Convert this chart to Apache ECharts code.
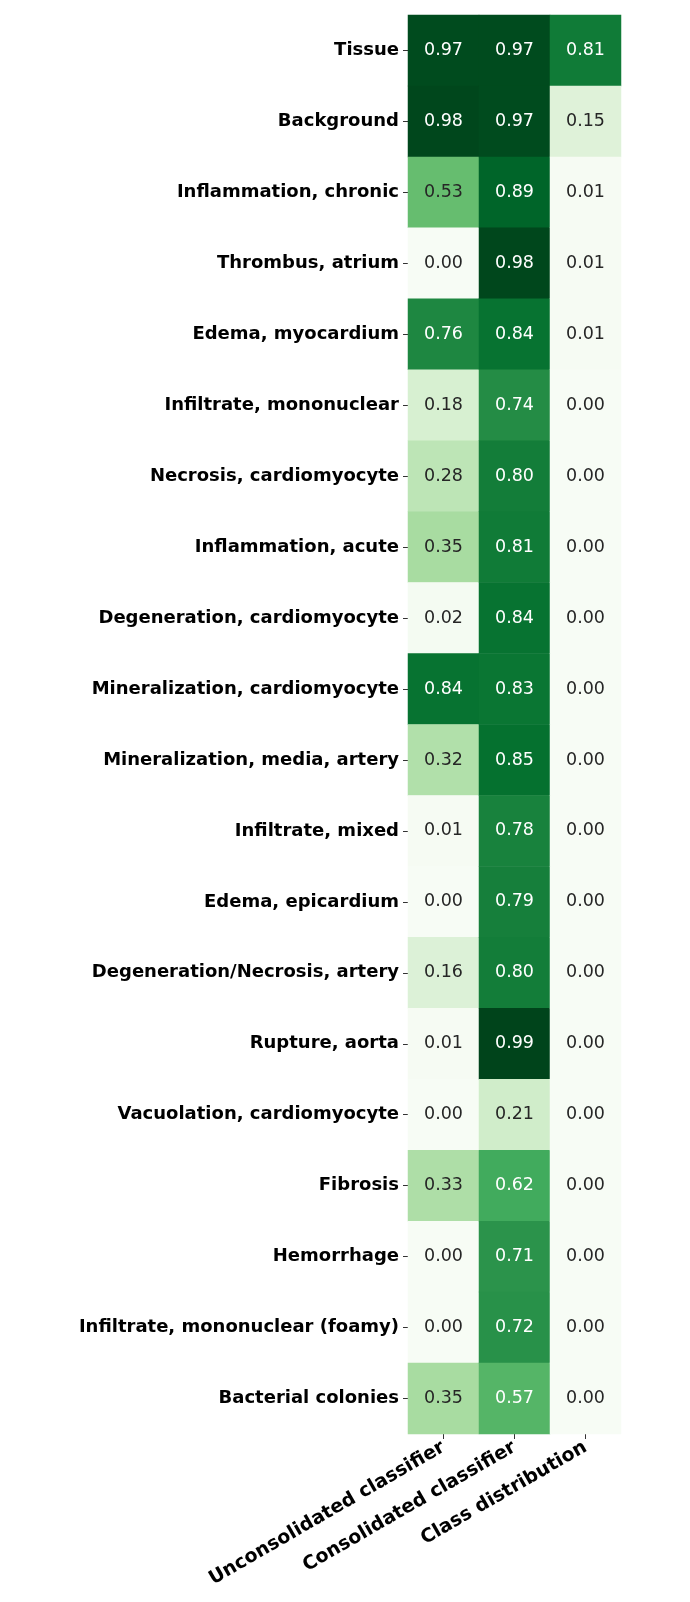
<!DOCTYPE html>
<html><head><meta charset="utf-8">
<script src="https://cdn.jsdelivr.net/npm/echarts@6/dist/echarts.min.js"></script>
<style>html,body{margin:0;padding:0;background:#fff}#c{width:690px;height:1602px}</style>
</head><body><div id="c"></div>
<script>
const rows = ["Tissue","Background","Inflammation, chronic","Thrombus, atrium","Edema, myocardium","Infiltrate, mononuclear","Necrosis, cardiomyocyte","Inflammation, acute","Degeneration, cardiomyocyte","Mineralization, cardiomyocyte","Mineralization, media, artery","Infiltrate, mixed","Edema, epicardium","Degeneration/Necrosis, artery","Rupture, aorta","Vacuolation, cardiomyocyte","Fibrosis","Hemorrhage","Infiltrate, mononuclear (foamy)","Bacterial colonies"];
const cols = ["Unconsolidated classifier","Consolidated classifier","Class distribution"];
const unconsolidated = [0.97,0.98,0.53,0.00,0.76,0.18,0.28,0.35,0.02,0.84,0.32,0.01,0.00,0.16,0.01,0.00,0.33,0.00,0.00,0.35];
const consolidated = [0.97,0.97,0.89,0.98,0.84,0.74,0.80,0.81,0.84,0.83,0.85,0.78,0.79,0.80,0.99,0.21,0.62,0.71,0.72,0.57];
const distribution = [0.81,0.15,0.01,0.01,0.01,0.00,0.00,0.00,0.00,0.00,0.00,0.00,0.00,0.00,0.00,0.00,0.00,0.00,0.00,0.00];
const greens = ['#f7fcf5','#e5f5e0','#c7e9c0','#a1d99b','#74c476','#41ab5d','#238b45','#006d2c','#00441b'];

const series = [unconsolidated, consolidated, distribution];
const data = [];
series.forEach((arr, ci) => arr.forEach((v, ri) => {
  data.push({value:[ci, ri, v], label:{color: v > 0.55 ? '#ffffff' : '#262626'}});
}));

const chart = echarts.init(document.getElementById('c'), null, {renderer:'canvas'});
chart.setOption({
  animation:false,
  textStyle:{fontFamily:'DejaVu Sans'},
  grid:{left:408, right:69, top:15, bottom:168},
  xAxis:{type:'category', data:cols, axisLine:{show:false},
    axisTick:{show:true, alignWithLabel:true, length:5, lineStyle:{color:'#333'}},
    axisLabel:{rotate:30, fontSize:19, fontWeight:'bold', color:'#000', margin:12, fontFamily:'DejaVu Sans'},
    splitLine:{show:false}},
  yAxis:{type:'category', data:rows, inverse:true, axisLine:{show:false},
    axisTick:{show:true, alignWithLabel:true, length:5, lineStyle:{color:'#333'}},
    axisLabel:{fontSize:18, fontWeight:'bold', color:'#000', margin:9, fontFamily:'DejaVu Sans'},
    splitLine:{show:false}},
  visualMap:{show:false, min:0, max:0.99, dimension:2, inRange:{color:greens}},
  series:[{type:'heatmap', data:data,
    label:{show:true, fontSize:17.5, fontFamily:'DejaVu Sans', formatter:p=>p.value[2].toFixed(2)},
    itemStyle:{borderWidth:0}}]
});
</script></body></html>
